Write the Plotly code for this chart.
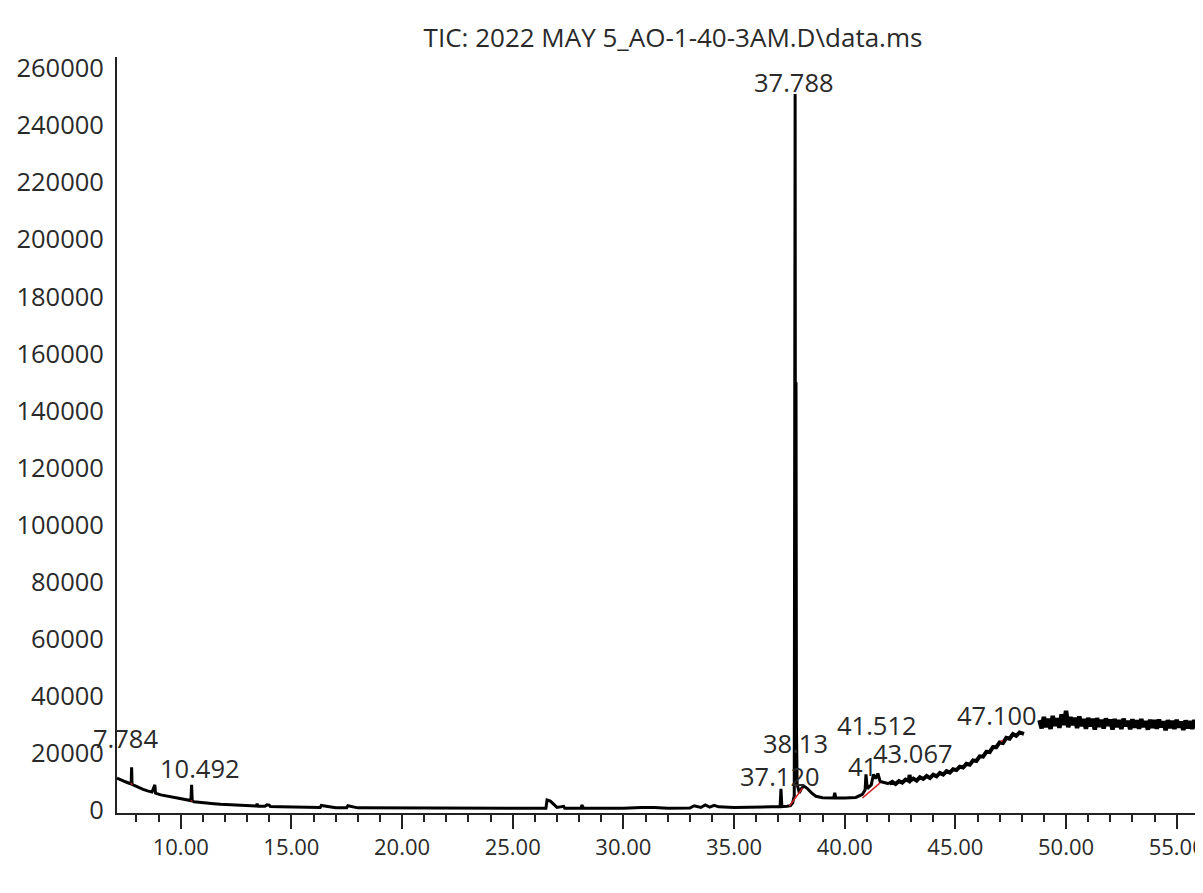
import plotly.graph_objects as go

# ---------------- data ----------------
rt_main = [7.12, 7.30, 7.50, 7.70, 7.76, 7.78, 7.80, 7.90, 8.10, 8.30, 8.50, 8.70, 8.83, 8.86,
           9.10, 9.40, 9.70, 10.00, 10.30, 10.46, 10.49, 10.52, 10.60, 10.90, 11.20, 11.50,
           11.80, 12.20, 12.60, 13.00, 13.40, 13.45, 13.50, 13.80, 13.90, 14.00, 14.05, 14.50,
           15.00, 16.00, 16.30, 16.35, 17.00, 17.50, 17.55, 18.00, 19.00, 20.00, 21.00, 22.00,
           23.00, 24.00, 25.00, 26.00, 26.50, 26.55, 26.70, 26.90, 27.00, 27.30, 27.35, 28.10,
           28.12, 28.20, 29.00, 30.00, 30.80, 31.40, 32.00, 33.00, 33.20, 33.50, 33.70, 33.90,
           34.10, 34.30, 35.00, 36.00, 37.08, 37.12, 37.16, 37.40, 37.55, 37.65, 37.72, 37.76,
           37.78, 37.80, 37.82, 37.85, 37.95, 38.05, 38.15, 38.30, 38.50, 38.70, 39.00, 39.50,
           39.55, 39.60, 40.00, 40.50, 40.80, 40.92, 40.96, 41.02, 41.20, 41.30, 41.40, 41.50,
           41.60, 41.80, 42.00]
tic_main = [11200, 10500, 9900, 9300, 9100, 15000, 9000, 8600, 7800, 7200, 6700, 6300, 8800, 5900,
            5300, 4800, 4300, 3900, 3500, 3300, 8800, 3200, 2900, 2600, 2400, 2200,
            2000, 1800, 1600, 1500, 1400, 2100, 1300, 1300, 1800, 1700, 1200, 1100,
            1000, 900, 900, 1600, 800, 800, 1500, 750, 700, 650, 650, 600,
            600, 600, 600, 600, 600, 3500, 3100, 1500, 900, 1300, 600, 600,
            1800, 600, 600, 600, 900, 900, 600, 700, 1500, 900, 1800, 1000,
            1600, 1100, 900, 1000, 1200, 7400, 1200, 1300, 1500, 2500, 5000, 251000,
            22000, 150000, 29000, 9000, 6000, 7600, 8400, 7600, 6000, 4800, 4300, 4200,
            6000, 4200, 4200, 4400, 5500, 7000, 12500, 7500, 8800, 12500, 11000, 12800,
            10000, 9500, 9200]

rt_ramp = [42.00, 42.15, 42.30, 42.45, 42.60, 42.75, 42.90, 42.93, 42.97, 43.10, 43.25, 43.40,
           43.55, 43.70, 43.85, 44.00, 44.15, 44.30, 44.45, 44.60, 44.75, 44.90, 45.05, 45.20,
           45.35, 45.50, 45.65, 45.80, 45.95, 46.10, 46.25, 46.40, 46.55, 46.70, 46.85, 47.00,
           47.15, 47.30, 47.45, 47.60, 47.75, 47.90, 48.10]
tic_ramp = [9200, 9900, 9100, 10100, 9600, 10700, 10200, 12300, 10300, 11000, 10300, 11500,
            10900, 11900, 11200, 12400, 11800, 13000, 12400, 13600, 13100, 14300, 14000, 15200,
            14900, 16200, 15900, 17400, 17200, 18800, 18700, 20400, 20300, 22100, 22000, 23700,
            23500, 25300, 25000, 26600, 26000, 27200, 26700]

rt_plateau = [48.8, 48.9, 49.0, 49.1, 49.2, 49.3, 49.4, 49.5, 49.6, 49.7, 49.8, 49.9, 50.0, 50.1,
              50.2, 50.3, 50.4, 50.5, 50.6, 50.7, 50.8, 50.9, 51.0, 51.1, 51.2, 51.3, 51.4, 51.5,
              51.6, 51.7, 51.8, 51.9, 52.0, 52.1, 52.2, 52.3, 52.4, 52.5, 52.6, 52.7, 52.8, 52.9,
              53.0, 53.1, 53.2, 53.3, 53.4, 53.5, 53.6, 53.7, 53.8, 53.9, 54.0, 54.1, 54.2, 54.3,
              54.4, 54.5, 54.6, 54.7, 54.8, 54.9, 55.0, 55.1, 55.2, 55.3, 55.4, 55.5, 55.6, 55.7,
              55.8, 55.9, 56.0, 56.1, 56.2, 56.3, 56.4, 56.5]
tic_plateau = [31500, 28600, 32600, 29000, 32000, 28400, 33000, 29500, 32200, 28800, 33500, 29800, 34800, 29000,
               32600, 29800, 32400, 28700, 32800, 29400, 31900, 28500, 32300, 29300, 32000, 28200, 32200, 29200,
               31600, 28600, 32100, 29500, 31700, 28200, 31900, 29100, 31500, 28400, 32000, 29400, 31300, 28300,
               31800, 28900, 31400, 28500, 31900, 29100, 31200, 28200, 31600, 28800, 31500, 28500, 31700, 29000,
               31100, 28000, 31500, 28700, 31300, 28400, 31600, 28900, 31000, 28100, 31400, 28600, 31200, 28400,
               31500, 28800, 30900, 28200, 31300, 28700, 31100, 28500]

# integration baselines (red)
rt_base = [7.74, 7.82, None, 10.45, 10.53, None, 37.50, 38.10, None, 40.80, 41.60, None, 47.05, 47.15]
tic_base = [9300, 8900, None, 3300, 3100, None, 1400, 7700, None, 4200, 9500, None, 24000, 24500]

peak_text = ["7.784", "10.492", "37.120", "38.13", "41", "41.512", "43.067", "47.100", "37.788"]
peak_label_y = [25260, 14740, 11800, 23400, 15440, 29820, 20000, 33330, 255090]
peak_label_x = [7.5, 10.85, 37.09, 37.78, 40.8, 41.47, 43.09, 46.9, 37.73]

y_ticks = [0, 20000, 40000, 60000, 80000, 100000, 120000, 140000, 160000, 180000,
           200000, 220000, 240000, 260000]
x_ticks = [10, 15, 20, 25, 30, 35, 40, 45, 50, 55]
x_tick_text = ["10.00", "15.00", "20.00", "25.00", "30.00", "35.00", "40.00", "45.00", "50.00", "55.00"]

title_text = "TIC: 2022 MAY 5_AO-1-40-3AM.D\\data.ms"

# ---------------- figure ----------------
FONT = "Open Sans"
TXT = "#2a2a2a"

fig = go.Figure()
fig.add_trace(go.Scatter(x=rt_main, y=tic_main, mode="lines",
                         line=dict(color="black", width=3),
                         hoverinfo="skip", showlegend=False))
fig.add_trace(go.Scatter(x=rt_ramp, y=tic_ramp, mode="lines",
                         line=dict(color="black", width=4),
                         hoverinfo="skip", showlegend=False))
fig.add_trace(go.Scatter(x=rt_plateau, y=tic_plateau, mode="lines",
                         line=dict(color="black", width=4.5),
                         hoverinfo="skip", showlegend=False))
fig.add_trace(go.Scatter(x=rt_base, y=tic_base, mode="lines",
                         line=dict(color="#d02020", width=1.5),
                         hoverinfo="skip", showlegend=False))

for x, y, t in zip(peak_label_x, peak_label_y, peak_text):
    fig.add_annotation(x=x, y=y, text=t, showarrow=False, xanchor="center", yanchor="middle",
                       font=dict(family=FONT, size=25.5, color=TXT))

fig.update_layout(
    width=1203, height=893,
    margin=dict(l=109, r=0, t=49, b=88),
    paper_bgcolor="white", plot_bgcolor="white",
    title=dict(text=title_text, x=665 / 1203, xref="container", xanchor="center",
               y=1 - 30 / 893, yref="container", yanchor="middle",
               font=dict(family=FONT, size=26, color=TXT)),
    xaxis=dict(range=[7.12, 56.55], tickmode="array", tickvals=x_ticks, ticktext=x_tick_text,
               ticks="outside", ticklen=14, tickwidth=2, tickcolor="#222",
               minor=dict(dtick=1, tick0=0, ticks="outside", ticklen=7, tickwidth=2, tickcolor="#222",
                          showgrid=False),
               showline=True, linecolor="#222", linewidth=2, showgrid=False, zeroline=False,
               tickfont=dict(family=FONT, size=22, color=TXT)),
    yaxis=dict(range=[-1050, 264000], tickmode="array", tickvals=y_ticks,
               ticktext=[str(v) for v in y_ticks], ticks="", showline=True, linecolor="#222",
               linewidth=2, showgrid=False, zeroline=False, ticklabelstandoff=6,
               tickfont=dict(family=FONT, size=25.5, color=TXT)),
)

fig.write_html("out.html")
